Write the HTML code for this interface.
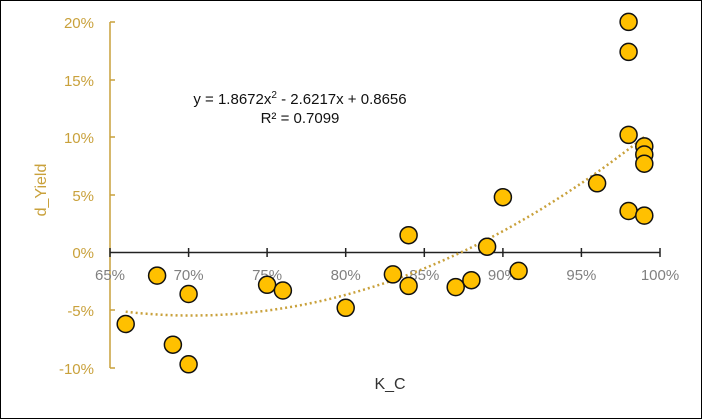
<!DOCTYPE html>
<html><head><style>
html,body{margin:0;padding:0;background:#fff;}
svg{display:block;font-family:"Liberation Sans",Arial,sans-serif;}
</style></head><body>
<svg width="702" height="419" viewBox="0 0 702 419" xmlns="http://www.w3.org/2000/svg">
<rect x="0.5" y="0.5" width="701" height="418" fill="#fff" stroke="#000" stroke-width="1"/>
<line x1="110" y1="22" x2="110" y2="368" stroke="#C9A13B" stroke-width="1.5"/>
<g stroke="#C9A13B" stroke-width="1.5">
<line x1="110" y1="22" x2="115" y2="22"/><line x1="110" y1="80" x2="115" y2="80"/>
<line x1="110" y1="137" x2="115" y2="137"/><line x1="110" y1="195" x2="115" y2="195"/>
<line x1="110" y1="310" x2="115" y2="310"/><line x1="110" y1="368" x2="115" y2="368"/>
</g>
<g fill="#C9A13B" font-size="15" text-anchor="end">
<text x="94" y="28">20%</text><text x="94" y="86">15%</text><text x="94" y="143">10%</text>
<text x="94" y="201">5%</text><text x="94" y="258">0%</text><text x="94" y="316">-5%</text>
<text x="94" y="374">-10%</text>
</g>
<text transform="translate(46,190) rotate(-90)" fill="#C9A13B" font-size="16" text-anchor="middle">d_Yield</text>
<line x1="110" y1="252.5" x2="660" y2="252.5" stroke="#222" stroke-width="1.5"/>
<g stroke="#222" stroke-width="1.5">
<line x1="110" y1="248" x2="110" y2="257"/><line x1="188.6" y1="248" x2="188.6" y2="257"/>
<line x1="267.1" y1="248" x2="267.1" y2="257"/><line x1="345.7" y1="248" x2="345.7" y2="257"/>
<line x1="424.3" y1="248" x2="424.3" y2="257"/><line x1="502.9" y1="248" x2="502.9" y2="257"/>
<line x1="581.4" y1="248" x2="581.4" y2="257"/><line x1="660" y1="248" x2="660" y2="257"/>
</g>
<g fill="#808080" font-size="15" text-anchor="middle">
<text x="110" y="280">65%</text><text x="188.6" y="280">70%</text><text x="267.1" y="280">75%</text>
<text x="345.7" y="280">80%</text><text x="424.3" y="280">85%</text><text x="502.9" y="280">90%</text>
<text x="581.4" y="280">95%</text><text x="660" y="280">100%</text>
</g>
<text x="390" y="389" fill="#333" font-size="16" text-anchor="middle">K_C</text>
<text x="300" y="104" fill="#111" font-size="15" text-anchor="middle">y = 1.8672x<tspan dy="-6" font-size="10">2</tspan><tspan dy="6"> - 2.6217x + 0.8656</tspan></text>
<text x="300" y="123" fill="#111" font-size="15" text-anchor="middle">R² = 0.7099</text>
<path id="trend" fill="none" stroke="#C9A13B" stroke-width="2.5" stroke-dasharray="2,3" d=""/>
<g fill="#FFC000" stroke="#111" stroke-width="1.5">
<circle cx="125.7" cy="324" r="8.5"/>
<circle cx="157.1" cy="275.6" r="8.5"/>
<circle cx="172.9" cy="344.7" r="8.5"/>
<circle cx="188.6" cy="294" r="8.5"/>
<circle cx="188.6" cy="364.3" r="8.5"/>
<circle cx="267.1" cy="284.8" r="8.5"/>
<circle cx="282.9" cy="290.5" r="8.5"/>
<circle cx="345.7" cy="307.8" r="8.5"/>
<circle cx="392.9" cy="274.4" r="8.5"/>
<circle cx="408.6" cy="235.2" r="8.5"/>
<circle cx="408.6" cy="285.9" r="8.5"/>
<circle cx="455.7" cy="287.1" r="8.5"/>
<circle cx="471.4" cy="280.2" r="8.5"/>
<circle cx="487.1" cy="246.7" r="8.5"/>
<circle cx="502.9" cy="197.2" r="8.5"/>
<circle cx="518.6" cy="270.9" r="8.5"/>
<circle cx="597.1" cy="183.3" r="8.5"/>
<circle cx="628.6" cy="21.9" r="8.5"/>
<circle cx="628.6" cy="51.9" r="8.5"/>
<circle cx="628.6" cy="134.9" r="8.5"/>
<circle cx="628.6" cy="211" r="8.5"/>
<circle cx="644.3" cy="146.4" r="8.5"/>
<circle cx="644.3" cy="154.5" r="8.5"/>
<circle cx="644.3" cy="163.7" r="8.5"/>
<circle cx="644.3" cy="215.6" r="8.5"/>
</g>
<script>
var X=function(p){return 110+(p-65)*15.714;},Y=function(p){return 252.5-p*11.53;};
var d="";for(var i=0;i<=60;i++){var x=0.66+0.33*i/60;var y=1.8672*x*x-2.6217*x+0.8656;d+=(i?"L":"M")+X(x*100).toFixed(1)+" "+Y(y*100).toFixed(1);}
document.getElementById("trend").setAttribute("d",d);
</script>
</svg>
</body></html>
